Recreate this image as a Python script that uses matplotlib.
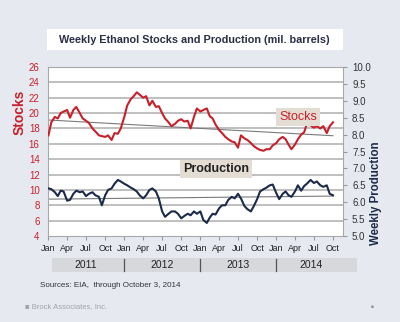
import matplotlib.pyplot as plt
import matplotlib.dates as mdates
import matplotlib.transforms as mtransforms
from matplotlib.patches import Rectangle
import numpy as np
import pandas as pd

plt.rcParams['font.family'] = ['Liberation Sans', 'DejaVu Sans']

# semi-monthly readings, Jan 2011 - Oct 2014 (mil. barrels)
stocks = [17.1, 18.8, 19.5, 19.3, 20.0, 20.2, 20.4, 19.4, 20.4, 20.8,
          20.0, 19.3, 19.0, 18.7, 18.0, 17.6, 17.1, 17.0, 16.9, 17.1,
          16.5, 17.4, 17.3, 18.0, 19.5, 21.0, 21.8, 22.2, 22.7, 22.4,
          22.0, 22.2, 21.0, 21.6, 20.8, 20.9, 20.0, 19.3, 18.8, 18.3,
          18.6, 19.0, 19.2, 18.9, 19.0, 18.0, 19.5, 20.6, 20.2, 20.4,
          20.6, 19.6, 19.3, 18.5, 17.8, 17.4, 16.9, 16.6, 16.3, 16.2,
          15.5, 17.1, 16.7, 16.5, 16.1, 15.7, 15.4, 15.2, 15.1, 15.3,
          15.3, 15.8, 16.1, 16.6, 16.9, 16.6, 15.9, 15.3, 15.9, 16.6,
          17.2, 17.5, 18.9, 18.4, 18.1, 18.3, 18.0, 18.3, 17.4, 18.3,
          18.8]
production = [10.2, 10.1, 9.7, 9.2, 9.9, 9.8, 8.6, 8.7, 9.5, 9.9,
              9.7, 9.8, 9.2, 9.5, 9.7, 9.3, 9.1, 8.0, 9.3, 10.0,
              10.2, 10.8, 11.3, 11.1, 10.8, 10.6, 10.3, 10.1, 9.8, 9.3,
              8.9, 9.3, 10.0, 10.2, 9.8, 8.9, 7.2, 6.5, 6.9, 7.2,
              7.2, 6.9, 6.3, 6.6, 6.9, 6.7, 7.2, 6.9, 7.2, 6.1,
              5.7, 6.4, 6.9, 6.8, 7.6, 8.0, 8.0, 8.7, 9.1, 8.9,
              9.5, 8.9, 7.9, 7.5, 7.2, 7.9, 8.8, 9.8, 10.1, 10.3,
              10.6, 10.7, 9.6, 8.8, 9.5, 9.8, 9.3, 9.1, 9.8, 10.6,
              9.9, 10.5, 10.9, 11.3, 10.9, 11.1, 10.6, 10.4, 10.6, 9.5,
              9.3]
dates = pd.date_range('2011-01-01', periods=len(stocks), freq='SMS')

# trend lines (start, end) on the left scale
stocks_trend = [19.1, 17.05]
production_trend = [8.8, 9.2]

years = ['2011', '2012', '2013', '2014']
left_ticks = list(range(4, 27, 2))
right_ticks = [5.0, 5.5, 6.0, 6.5, 7.0, 7.5, 8.0, 8.5, 9.0, 9.5, 10.0]

bg = '#e6e9f0'
red = '#c8202a'
navy = '#1c2a4a'

fig = plt.figure(figsize=(4, 3.22), dpi=100, facecolor=bg)
ax = fig.add_axes([0.12, 0.267, 0.7375, 0.525])
ax.set_facecolor('white')

for v in left_ticks[1:-1]:
    ax.axhline(v, color='#b4b4b4', lw=1.2, zorder=1)

ax.plot([dates[0], dates[-1]], stocks_trend, color='#7a7a7a', lw=0.8, zorder=2)
ax.plot([dates[0], dates[-1]], production_trend, color='#7a7a7a', lw=0.8, zorder=2)
ax.plot(dates, stocks, color=red, lw=1.5, zorder=3)
ax.plot(dates, production, color=navy, lw=1.5, zorder=3)

ax.set_ylim(4, 26)
ax.set_yticks(left_ticks)
ax.tick_params(axis='y', colors=red, labelsize=7, length=0, pad=6)
ax.set_xlim(pd.Timestamp('2010-12-30'), pd.Timestamp('2014-11-18'))
ax.xaxis.set_major_locator(mdates.MonthLocator(bymonth=[1, 4, 7, 10]))
ax.xaxis.set_major_formatter(mdates.DateFormatter('%b'))
ax.tick_params(axis='x', colors='#9a9a9a', labelcolor='#222222', labelsize=6.5, length=3, pad=3)
for s in ax.spines.values():
    s.set_color('#a8a8a8')
    s.set_linewidth(0.8)

ax2 = ax.twinx()
ax2.set_ylim(5, 10)
ax2.set_yticks(right_ticks)
ax2.set_yticklabels([f'{v:.1f}' for v in right_ticks])
ax2.tick_params(axis='y', colors='#9a9a9a', labelcolor='#333333', labelsize=7, length=3)
for s in ax2.spines.values():
    s.set_visible(False)

fig.text(0.05, 0.652, 'Stocks', rotation=90, color=red, fontsize=10,
         fontweight='bold', ha='center', va='center')
fig.text(0.939, 0.399, 'Weekly Production', rotation=90, color=navy, fontsize=8.3,
         fontweight='bold', ha='center', va='center')

ax.text(0.847, 0.705, 'Stocks', transform=ax.transAxes, color=red, fontsize=9,
        ha='center', va='center',
        bbox=dict(boxstyle='square,pad=0.25', fc='#e3ddd3', ec='none'))
ax.text(0.57, 0.395, 'Production', transform=ax.transAxes, color='#222222',
        fontsize=9, fontweight='bold', ha='center', va='center',
        bbox=dict(boxstyle='square,pad=0.25', fc='#e3ddd3', ec='none'))

# title box
fig.patches.append(Rectangle((0.1175, 0.845), 0.74, 0.065, transform=fig.transFigure,
                             fc='white', ec='none', zorder=0))
fig.text(0.487, 0.877, 'Weekly Ethanol Stocks and Production (mil. barrels)',
         fontsize=7.8, fontweight='bold', color='#2a2f45', ha='center', va='center')

# year band under the axis
fig.patches.append(Rectangle((0.13, 0.155), 0.763, 0.044, transform=fig.transFigure,
                             fc='#d6d8dc', ec='none', zorder=0))
blend = mtransforms.blended_transform_factory(ax.transData, fig.transFigure)
for i, y in enumerate(years):
    x0 = pd.Timestamp(f'{y}-01-01')
    xm = pd.Timestamp(f'{y}-07-01') if y != '2014' else pd.Timestamp('2014-06-15')
    fig.text(mdates.date2num(xm), 0.177, y, transform=blend, fontsize=7.5,
             color='#222222', ha='center', va='center')
    if i > 0:
        fig.add_artist(plt.Line2D([mdates.date2num(x0)] * 2, [0.157, 0.197],
                                  transform=blend, color='#555555', lw=0.9))

fig.text(0.1, 0.112, 'Sources: EIA,  through October 3, 2014', fontsize=5.8,
         color='#333333', ha='left', va='center')
fig.text(0.062, 0.047, '\u25a0 Brock Associates, Inc.', fontsize=5.5,
         color='#a0a3a8', ha='left', va='center')
fig.text(0.93, 0.047, '\u25a0', fontsize=3.5, color='#8a8d92', ha='center', va='center')

fig.savefig('out.png', dpi=100, facecolor=bg)
